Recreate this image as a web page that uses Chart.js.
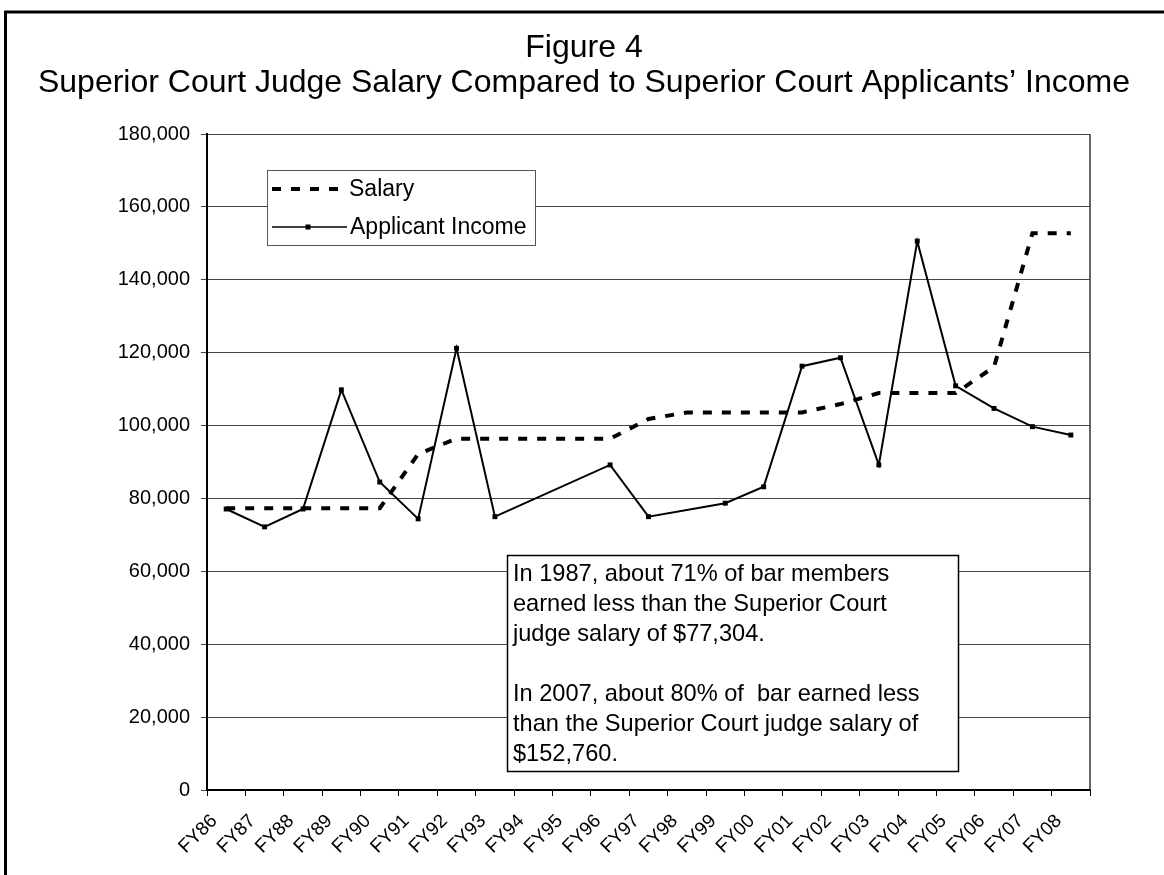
<!DOCTYPE html>
<html>
<head>
<meta charset="utf-8">
<script src="https://cdn.jsdelivr.net/npm/chart.js@4/dist/chart.umd.min.js"></script>
<style>
  body { margin: 0; background: #fff; }
  #chart { display: block; }
</style>
</head>
<body>
<canvas id="chart" width="1164" height="875"></canvas>
<script>
// data
const fiscalYears = ['FY86', 'FY87', 'FY88', 'FY89', 'FY90', 'FY91', 'FY92', 'FY93', 'FY94', 'FY95', 'FY96', 'FY97',
  'FY98', 'FY99', 'FY00', 'FY01', 'FY02', 'FY03', 'FY04', 'FY05', 'FY06', 'FY07', 'FY08'];
const salary = [77304, 77304, 77304, 77304, 77304, 92200, 96400, 96400, 96400, 96400, 96400, 101800,
  103600, 103600, 103600, 103600, 105900, 108900, 108900, 108900, 116100, 152760, 152760];
const applicantIncome = [77100, 72200, 77100, 109800, 84500, 74400, 121200, 75000, null, null, 89200, 75000,
  null, 78700, 83200, 116300, 118600, 89200, 150600, 110900, 104700, 99700, 97400];
const yMin = 0;
const yMax = 180000;
const yStep = 20000;
const titleLines = ['Figure 4', 'Superior Court Judge Salary Compared to Superior Court Applicants\u2019 Income'];
const noteLines = [
  'In 1987, about 71% of bar members',
  'earned less than the Superior Court',
  'judge salary of $77,304.',
  '',
  'In 2007, about 80% of  bar earned less',
  'than the Superior Court judge salary of',
  '$152,760.'
];

const FONT = '"Liberation Sans", Arial, sans-serif';

// page frame, title, right edge of plot
const framePlugin = {
  id: 'frame',
  beforeDraw(chart) {
    const ctx = chart.ctx;
    ctx.save();
    ctx.fillStyle = '#fff';
    ctx.fillRect(0, 0, chart.width, chart.height);
    ctx.strokeStyle = '#000';
    ctx.lineWidth = 3;
    ctx.strokeRect(5.5, 12, chart.width + 50, chart.height + 50);

    // title (drawn here so it is not squeezed to the padded width)
    ctx.fillStyle = '#000';
    ctx.font = '32px ' + FONT;
    ctx.textAlign = 'center';
    ctx.textBaseline = 'alphabetic';
    titleLines.forEach((line, i) => {
      ctx.fillText(line, 584, 57 + i * 35);
    });
    ctx.restore();
  },
  afterDraw(chart) {
    const a = chart.chartArea;
    const ctx = chart.ctx;
    ctx.save();
    ctx.strokeStyle = '#333';
    ctx.lineWidth = 1.5;
    ctx.beginPath();
    ctx.moveTo(a.right, a.top);
    ctx.lineTo(a.right, a.bottom);
    ctx.stroke();
    ctx.restore();
  }
};

// legend box inside plot
const legendBox = {
  id: 'legendBox',
  afterDatasetsDraw(chart) {
    const ctx = chart.ctx;
    const ds = chart.data.datasets;
    ctx.save();
    ctx.fillStyle = '#fff';
    ctx.fillRect(267, 170, 268, 75);
    ctx.strokeStyle = '#555';
    ctx.lineWidth = 1;
    ctx.strokeRect(267.5, 170.5, 268, 75);

    // salary sample
    ctx.strokeStyle = '#000';
    ctx.lineWidth = 4;
    ctx.setLineDash(ds[0].borderDash);
    ctx.beginPath();
    ctx.moveTo(272, 189);
    ctx.lineTo(347, 189);
    ctx.stroke();
    ctx.setLineDash([]);

    // income sample
    ctx.lineWidth = 1.5;
    ctx.beginPath();
    ctx.moveTo(272, 227);
    ctx.lineTo(347, 227);
    ctx.stroke();
    ctx.fillStyle = '#000';
    ctx.fillRect(305.5, 224.5, 5, 5);

    ctx.font = '23px ' + FONT;
    ctx.textBaseline = 'middle';
    ctx.textAlign = 'left';
    ctx.fillText(ds[0].label, 349, 190);
    ctx.fillText(ds[1].label, 350, 228);
    ctx.restore();
  }
};

// note box
const noteBox = {
  id: 'noteBox',
  afterDatasetsDraw(chart) {
    const ctx = chart.ctx;
    ctx.save();
    ctx.fillStyle = '#fff';
    ctx.fillRect(507, 555, 451, 216);
    ctx.strokeStyle = '#000';
    ctx.lineWidth = 1.5;
    ctx.strokeRect(507.5, 555.5, 451, 216);
    ctx.fillStyle = '#000';
    ctx.font = '23.6px ' + FONT;
    ctx.textBaseline = 'middle';
    ctx.textAlign = 'left';
    noteLines.forEach((line, i) => {
      ctx.fillText(line, 513, 574 + i * 30);
    });
    ctx.restore();
  }
};

const incomeData = {
  labels: fiscalYears,
  datasets: [{
    label: 'Salary',
    data: salary,
    borderColor: '#000',
    borderWidth: 4,
    borderDash: [9, 10],
    pointRadius: 0,
    tension: 0,
    fill: false
  }, {
    label: 'Applicant Income',
    data: applicantIncome,
    borderColor: '#000',
    borderWidth: 2,
    pointStyle: 'rect',
    pointRadius: 3.5,
    pointBackgroundColor: '#000',
    pointBorderWidth: 0,
    spanGaps: true,
    tension: 0,
    fill: false
  }]
};

const incomeConfig = {
  type: 'line',
  data: incomeData,
  options: {
    responsive: false,
    animation: false,
    devicePixelRatio: 1,
    layout: {
      padding: { left: 0, right: 74, top: 134, bottom: 0 }
    },
    plugins: {
      legend: { display: false },
      tooltip: { enabled: false },
      title: { display: false }
    },
    scales: {
      x: {
        type: 'category',
        offset: true,
        grid: {
          offset: true,
          drawOnChartArea: false,
          drawTicks: true,
          tickLength: 6,
          color: '#000'
        },
        border: { color: '#000', width: 2 },
        ticks: {
          color: '#000',
          font: { family: FONT, size: 19 },
          minRotation: 45,
          maxRotation: 45,
          autoSkip: false,
          labelOffset: -12,
          padding: 14
        },
        afterFit(scale) { scale.height = 85; }
      },
      y: {
        min: yMin,
        max: yMax,
        grid: {
          color: '#444',
          lineWidth: 1,
          tickLength: 6,
          drawTicks: true
        },
        border: { color: '#000', width: 2 },
        ticks: {
          stepSize: yStep,
          color: '#000',
          padding: 11,
          font: { family: FONT, size: 20 },
          callback: (v) => v.toLocaleString('en-US')
        },
        afterFit(scale) { scale.width = 207; }
      }
    }
  },
  plugins: [framePlugin, legendBox, noteBox]
};

window.addEventListener('DOMContentLoaded', () => {
  const ctx = document.getElementById('chart').getContext('2d');
  new Chart(ctx, incomeConfig);
});
</script>
</body>
</html>
